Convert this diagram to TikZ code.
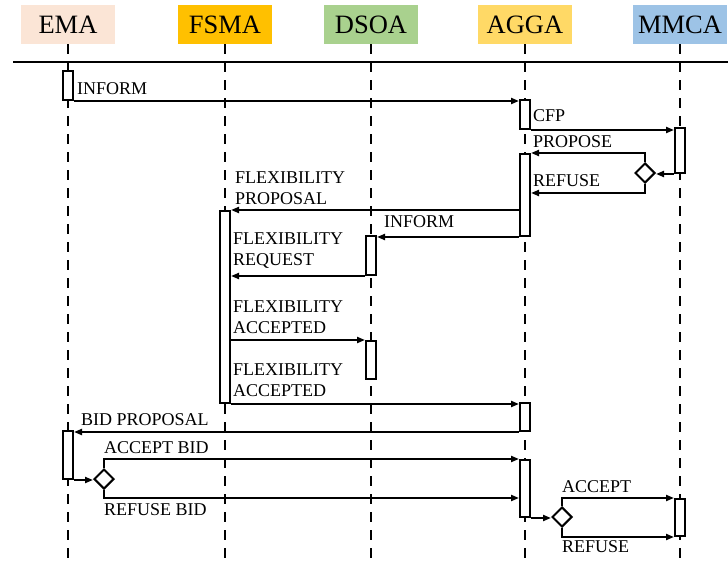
\documentclass[tikz,border=0pt]{standalone}
\usepackage{fontspec}
\setmainfont{Liberation Serif}
\usetikzlibrary{arrows.meta,shapes.geometric,backgrounds}
\definecolor{emapeach}{HTML}{FBE5D6}
\definecolor{fsmagold}{HTML}{FFC000}
\definecolor{dsoagreen}{HTML}{A9D18E}
\definecolor{aggayellow}{HTML}{FFD966}
\definecolor{mmcablue}{HTML}{9DC3E6}
\tikzset{
  agentnode/.style={minimum width=94pt,minimum height=39pt,inner sep=0pt,font=\fontsize{26.5}{30}\selectfont},
  lifeline/.style={line width=2.5pt,dash pattern=on 10pt off 8pt},
  actbar/.style={draw,line width=2pt,fill=white,minimum width=10pt,inner sep=0pt,anchor=north},
  msgarrow/.style={-{Triangle[length=8pt,width=6pt]},line width=2pt},
  decnode/.style={diamond,draw,line width=2pt,fill=white,minimum width=20pt,minimum height=20pt,inner sep=0pt},
  msglabel/.style={font=\fontsize{18}{21}\selectfont,inner sep=0pt,align=left,anchor=base west},
}
\begin{document}
\begin{tikzpicture}[x=1pt,y=-1pt]
    \useasboundingbox (0,0) rectangle (728,561);
    % agents
    \node[agentnode,fill=emapeach] (ema) at (68,24.5) {EMA};
    \node[agentnode,fill=fsmagold] (fsma) at (225,24.5) {FSMA};
    \node[agentnode,fill=dsoagreen] (dsoa) at (371,24.5) {DSOA};
    \node[agentnode,fill=aggayellow] (agga) at (525,24.5) {AGGA};
    \node[agentnode,fill=mmcablue] (mmca) at (680,24.5) {MMCA};
    \coordinate (bottom) at (0,561);
    \coordinate (sepL) at (13,62); \coordinate (sepR) at (728,62);
    % activation bars
    \node[actbar,minimum height=29pt] (ema1) at (68,70) {};
    \node[actbar,minimum height=29pt] (agga1) at (525,99) {};
    \node[actbar,minimum height=45pt] (mmca1) at (680,127) {};
    \node[actbar,minimum height=82pt] (agga2) at (525,153) {};
    \node[actbar,minimum height=192pt] (fsma1) at (225,210) {};
    \node[actbar,minimum height=39pt] (dsoa1) at (371,235) {};
    \node[actbar,minimum height=38pt] (dsoa2) at (371,340) {};
    \node[actbar,minimum height=28pt] (agga3) at (525,402) {};
    \node[actbar,minimum height=48pt] (ema2) at (68,430) {};
    \node[actbar,minimum height=57pt] (agga4) at (525,459) {};
    \node[actbar,minimum height=37pt] (mmca2) at (680,498) {};
    \node[decnode] (dia1) at (645,173) {};
    \node[decnode] (dia2) at (104,479) {};
    \node[decnode] (dia3) at (562,517) {};
    \begin{scope}[on background layer]
      \foreach \a in {ema,fsma,dsoa,agga,mmca}
        \draw[lifeline] (\a.south) -- (\a.south |- bottom);
    \end{scope}
    \draw[line width=1.8pt] (sepL) -- (sepR);
    % messages
    \draw[msgarrow] (ema1.south east) -- (ema1.south east -| agga1.west);
    \draw[msgarrow] (agga1.south east) -- (agga1.south east -| mmca1.west);
    \draw[msgarrow] (mmca1.south west) -- (mmca1.south west -| dia1.east);
    \draw[msgarrow] (dia1.north) |- (agga2.north east);
    \draw[msgarrow] (dia1.south) -- ++(0,9) coordinate (ref1) -- (ref1 -| agga2.east);
    \draw[msgarrow] (agga2.west |- fsma1.north) -- (fsma1.north east);
    \draw[msgarrow] (agga2.south west) -- (agga2.south west -| dsoa1.east);
    \draw[msgarrow] (dsoa1.south west) -- (dsoa1.south west -| fsma1.east);
    \draw[msgarrow] (fsma1.east |- dsoa2.north) -- (dsoa2.north west);
    \draw[msgarrow] (fsma1.south east) -- (fsma1.south east -| agga3.west);
    \draw[msgarrow] (agga3.south west) -- (agga3.south west -| ema2.east);
    \draw[msgarrow] (ema2.south east) -- (ema2.south east -| dia2.west);
    \draw[msgarrow] (dia2.north) |- (agga4.north west);
    \draw[msgarrow] (dia2.south) -- ++(0,8) coordinate (ref2) -- (ref2 -| agga4.west);
    \draw[msgarrow] (agga4.south east) -- (agga4.south east -| dia3.west);
    \draw[msgarrow] (dia3.north) |- (mmca2.north west);
    \draw[msgarrow] (dia3.south) |- (mmca2.south west);
    % labels (base of the last line)
    \node[msglabel] (lInform) at (77,95) {INFORM};
    \node[msglabel] (lCfp) at (533,122) {CFP};
    \node[msglabel] (lPropose) at (533,148) {PROPOSE};
    \node[msglabel] (lRefuse) at (533,187) {REFUSE};
    \node[msglabel] (lFlexProp) at (235,205) {FLEXIBILITY\\PROPOSAL};
    \node[msglabel] (lInformB) at (384,228) {INFORM};
    \node[msglabel] (lFlexReq) at (233,266) {FLEXIBILITY\\REQUEST};
    \node[msglabel] (lFlexAccA) at (233,334) {FLEXIBILITY\\ACCEPTED};
    \node[msglabel] (lFlexAccB) at (233,396) {FLEXIBILITY\\ACCEPTED};
    \node[msglabel] (lBidProp) at (81,425) {BID PROPOSAL};
    \node[msglabel] (lAcceptBid) at (104,453) {ACCEPT BID};
    \node[msglabel] (lRefuseBid) at (104,515) {REFUSE BID};
    \node[msglabel] (lAccept) at (562,492) {ACCEPT};
    \node[msglabel] (lRefuseB) at (562,552) {REFUSE};
\end{tikzpicture}
\end{document}
